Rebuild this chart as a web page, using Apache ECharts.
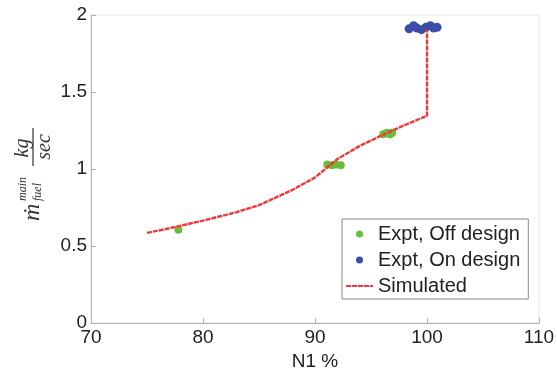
<!DOCTYPE html>
<html>
<head>
<meta charset="utf-8">
<script src="https://cdn.jsdelivr.net/npm/echarts@6/dist/echarts.min.js"></script>
<style>
  html, body { margin: 0; padding: 0; background: #fff; }
  #chart { width: 557px; height: 369px; }
</style>
</head>
<body>
<div id="chart"></div>
<script>
// Main fuel flow vs. fan speed N1
const xTicks = [70, 80, 90, 100, 110];
const yTicks = [0, 0.5, 1, 1.5, 2];

// Experimental points, off-design (N1 %, kg/s)
const offDesignN1 = [77.8, 91.1, 91.5, 91.9, 92.3, 96.1, 96.4, 96.7, 96.9];
const offDesignFlow = [0.605, 1.03, 1.025, 1.03, 1.025, 1.225, 1.235, 1.225, 1.235];

// Experimental points, on-design
const onDesignN1 = [98.4, 98.8, 99.1, 99.5, 99.9, 100.3, 100.6, 100.9];
const onDesignFlow = [1.91, 1.93, 1.915, 1.905, 1.92, 1.93, 1.915, 1.92];

// Simulated curve
const simN1 = [75, 77, 80, 83, 85, 88, 90, 92, 94, 96, 98, 100, 100];
const simFlow = [0.585, 0.615, 0.665, 0.72, 0.765, 0.865, 0.945, 1.065, 1.15, 1.22, 1.285, 1.345, 1.905];

const zip = (xs, ys) => xs.map((x, i) => [x, ys[i]]);

const axisGray = '#b0b0b0';
const labelColor = '#222';
const labelFont = 'Liberation Sans, Arial, sans-serif';
const ySerif = 'Liberation Serif, Times New Roman, serif';
const simColor = '#f0383a';

const chart = echarts.init(document.getElementById('chart'));

chart.setOption({
  animation: false,
  grid: { left: 91, right: 18, top: 15, bottom: 46, containLabel: false, outerBoundsMode: 'none' },
  xAxis: {
    type: 'value', min: xTicks[0], max: xTicks[xTicks.length - 1], interval: 10,
    name: 'N1 %', nameLocation: 'middle', nameGap: 27,
    nameTextStyle: { fontFamily: labelFont, fontSize: 19, color: labelColor },
    axisLine: { lineStyle: { color: axisGray } },
    axisTick: { inside: true, length: 5, lineStyle: { color: axisGray } },
    axisLabel: { fontFamily: labelFont, fontSize: 19, color: labelColor, margin: 5 },
    splitLine: { show: false }
  },
  yAxis: {
    type: 'value', min: yTicks[0], max: yTicks[yTicks.length - 1], interval: 0.5,
    axisLine: { show: true, lineStyle: { color: axisGray } },
    axisTick: { show: true, inside: true, length: 5, lineStyle: { color: axisGray } },
    axisLabel: { fontFamily: labelFont, fontSize: 19, color: labelColor, margin: 4 },
    splitLine: { show: false }
  },
  legend: {
    orient: 'vertical', left: 342, top: 219,
    padding: [5, 8, 3, 3],
    borderColor: '#888', borderWidth: 1, backgroundColor: '#fff',
    itemWidth: 27, itemHeight: 7, itemGap: 6,
    textStyle: { fontFamily: labelFont, fontSize: 20, color: labelColor },
    data: [
      { name: 'Expt, Off design', icon: 'circle' },
      { name: 'Expt, On design', icon: 'circle' },
      { name: 'Simulated', itemStyle: { opacity: 0 } }
    ]
  },
  graphic: [
    { type: 'rect', shape: { x: 91, y: 15, width: 448, height: 308 }, style: { fill: 'none', stroke: '#e4e4e4', lineWidth: 1 }, silent: true, z: -1 },
    {
      type: 'group', x: 0, y: 222, rotation: Math.PI / 2,
      children: [
        { type: 'text', x: 1, y: 33, style: { text: '\u1E41', font: 'italic 24px ' + ySerif, fill: '#333', verticalAlign: 'middle' } },
        { type: 'text', x: 21, y: 23, style: { text: 'main', font: 'italic 12px ' + ySerif, fill: '#333', verticalAlign: 'middle' } },
        { type: 'text', x: 21, y: 38, style: { text: 'fuel', font: 'italic 12px ' + ySerif, fill: '#333', verticalAlign: 'middle' } },
        { type: 'text', x: 74, y: 23, style: { text: 'kg', font: 'italic 20px ' + ySerif, fill: '#333', verticalAlign: 'middle', align: 'center' } },
        { type: 'line', shape: { x1: 56, y1: 33, x2: 94, y2: 33 }, style: { stroke: '#333', lineWidth: 1.2 } },
        { type: 'text', x: 75, y: 45, style: { text: 'sec', font: 'italic 20px ' + ySerif, fill: '#333', verticalAlign: 'middle', align: 'center' } }
      ]
    }
  ],
  series: [
    {
      name: 'Simulated', type: 'line', data: zip(simN1, simFlow),
      showSymbol: false, symbol: 'none', z: 3,
      lineStyle: { color: simColor, width: 2.4, type: [5, 1] },
      itemStyle: { color: simColor }
    },
    {
      name: 'Expt, Off design', type: 'scatter', data: zip(offDesignN1, offDesignFlow),
      symbolSize: 8, z: 2,
      itemStyle: { color: '#68bd3c', opacity: 1 }
    },
    {
      name: 'Expt, On design', type: 'scatter', data: zip(onDesignN1, onDesignFlow),
      symbolSize: 9, z: 2,
      itemStyle: { color: '#3a4ea8', opacity: 1 }
    }
  ]
});
</script>
</body>
</html>
